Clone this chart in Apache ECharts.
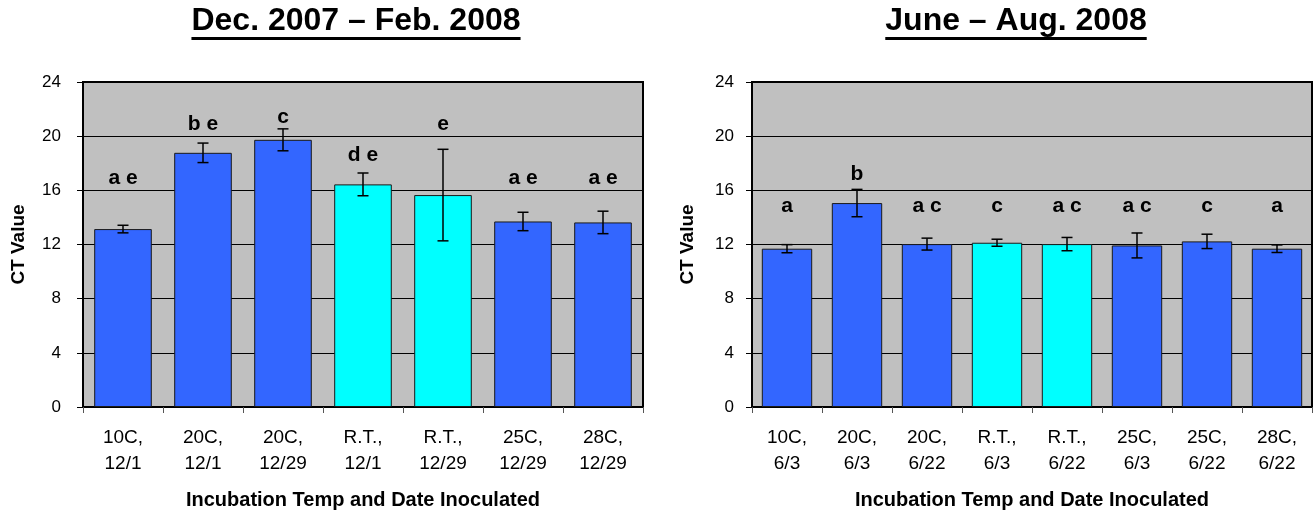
<!DOCTYPE html>
<html>
<head>
<meta charset="utf-8">
<script src="https://cdn.jsdelivr.net/npm/echarts@6/dist/echarts.min.js"></script>
<style>
html,body{margin:0;padding:0;background:#fff;}
#chart{width:1315px;height:515px;}
</style>
</head>
<body>
<div id="chart"></div>
<script>
// ---- Data ----
const leftTitle = 'Dec. 2007 \u2013 Feb. 2008';
const rightTitle = 'June \u2013 Aug. 2008';
const xAxisTitle = 'Incubation Temp and Date Inoculated';
const yAxisTitle = 'CT Value';

const leftCategories = ['10C,\n12/1', '20C,\n12/1', '20C,\n12/29', 'R.T.,\n12/1', 'R.T.,\n12/29', '25C,\n12/29', '28C,\n12/29'];
const leftValues = [13.14, 18.77, 19.73, 16.44, 15.65, 13.70, 13.63];
const leftErrors = [0.28, 0.72, 0.81, 0.84, 3.38, 0.68, 0.83];
const leftLetters = ['a e', 'b e', 'c', 'd e', 'e', 'a e', 'a e'];
const leftLetterY = [16.9, 20.9, 21.4, 18.6, 20.9, 16.9, 16.9];

const rightCategories = ['10C,\n6/3', '20C,\n6/3', '20C,\n6/22', 'R.T.,\n6/3', 'R.T.,\n6/22', '25C,\n6/3', '25C,\n6/22', '28C,\n6/22'];
const rightValues = [11.69, 15.06, 12.03, 12.13, 12.03, 11.93, 12.23, 11.69];
const rightErrors = [0.30, 1.01, 0.44, 0.26, 0.49, 0.92, 0.53, 0.28];
const rightLetters = ['a', 'b', 'a c', 'c', 'a c', 'a c', 'c', 'a'];
const rightLetterY = [14.85, 17.16, 14.85, 14.85, 14.85, 14.85, 14.85, 14.85];

const yMin = 0, yMax = 24, yInterval = 4;

// ---- Styles ----
const FONT = 'Liberation Sans, Arial, Helvetica, sans-serif';
const BLUE = '#3366FF';
const CYAN = '#00FFFF';
const PLOT_BG = '#C0C0C0';

function barColor(cat) { return cat.indexOf('R.T.') === 0 ? CYAN : BLUE; }

function measure(text, font) {
  const c = document.createElement('canvas').getContext('2d');
  c.font = font;
  return c.measureText(text).width;
}

const chart = echarts.init(document.getElementById('chart'), null, {renderer: 'canvas'});

const grids = [
  {left: 83, right: 672, top: 82, bottom: 108},
  {left: 752, right: 3, top: 82, bottom: 108}
];

function xAxisFor(idx, cats) {
  return {
    type: 'category', gridIndex: idx, data: cats,
    axisLine: {show: true, lineStyle: {color: '#000', width: 2}},
    axisTick: {show: true, length: 6, lineStyle: {color: '#555', width: 1}},
    axisLabel: {interval: 0, fontFamily: FONT, fontSize: 19, lineHeight: 26, color: '#000', margin: 18},
    name: xAxisTitle, nameLocation: 'middle', nameGap: 83,
    nameTextStyle: {fontFamily: FONT, fontSize: 20, fontWeight: 'bold', color: '#000'},
    splitLine: {show: false}
  };
}
function yAxisFor(idx, labelMargin) {
  return {
    type: 'value', gridIndex: idx, min: yMin, max: yMax, interval: yInterval,
    axisLine: {show: true, lineStyle: {color: '#000', width: 2}},
    axisTick: {show: true, length: 6, lineStyle: {color: '#000', width: 1}},
    axisLabel: {fontFamily: FONT, fontSize: 17, color: '#000', margin: labelMargin},
    splitLine: {show: true, lineStyle: {color: '#000', width: 1}},
    name: yAxisTitle, nameLocation: 'middle', nameGap: 55, nameRotate: 90,
    nameTextStyle: {fontFamily: FONT, fontSize: 19, fontWeight: 'bold', color: '#000'}
  };
}

function barSeries(idx, cats, values) {
  return {
    type: 'bar', xAxisIndex: idx, yAxisIndex: idx, barWidth: '72%',
    data: values.map((v, i) => ({value: v, itemStyle: {color: barColor(cats[i])}})),
    itemStyle: {borderColor: '#1a1a1a', borderWidth: 1},
    emphasis: {disabled: true}, silent: true, z: 2
  };
}
function errorSeries(idx, values, errors) {
  return {
    type: 'custom', xAxisIndex: idx, yAxisIndex: idx, z: 5, silent: true,
    data: values.map((v, i) => [i, v, errors[i]]),
    renderItem: function (params, api) {
      const i = api.value(0), v = api.value(1), e = api.value(2);
      const hi = api.coord([i, v + e]);
      const lo = api.coord([i, v - e]);
      const cap = 5.5;
      const st = {stroke: '#000', lineWidth: 1.5};
      return {type: 'group', children: [
        {type: 'line', shape: {x1: hi[0], y1: hi[1], x2: lo[0], y2: lo[1]}, style: st},
        {type: 'line', shape: {x1: hi[0] - cap, y1: hi[1], x2: hi[0] + cap, y2: hi[1]}, style: st},
        {type: 'line', shape: {x1: lo[0] - cap, y1: lo[1], x2: lo[0] + cap, y2: lo[1]}, style: st}
      ]};
    }
  };
}
function letterSeries(idx, letters, letterY) {
  return {
    type: 'custom', xAxisIndex: idx, yAxisIndex: idx, z: 6, silent: true,
    data: letterY.map((y, i) => [i, y]),
    renderItem: function (params, api) {
      const p = api.coord([api.value(0), api.value(1)]);
      return {type: 'text', x: p[0], y: p[1], style: {
        text: letters[params.dataIndex], fill: '#000',
        font: 'bold 21px ' + FONT, align: 'center', verticalAlign: 'middle'
      }};
    }
  };
}

const titleFont = 'bold 32px ' + FONT;
function titleGraphic(text, cx) {
  const w = measure(text, titleFont);
  return [
    {type: 'text', x: cx, y: 21, style: {text: text, font: titleFont, fill: '#000', align: 'center', verticalAlign: 'middle'}},
    {type: 'rect', shape: {x: cx - w / 2, y: 37, width: w, height: 3}, style: {fill: '#000'}}
  ];
}

const option = {
  backgroundColor: '#fff',
  animation: false,
  grid: grids.map(g => Object.assign({show: true, backgroundColor: PLOT_BG, borderColor: '#000', borderWidth: 2}, g)),
  xAxis: [xAxisFor(0, leftCategories), xAxisFor(1, rightCategories)],
  yAxis: [yAxisFor(0, 22), yAxisFor(1, 18)],
  series: [
    barSeries(0, leftCategories, leftValues),
    errorSeries(0, leftValues, leftErrors),
    letterSeries(0, leftLetters, leftLetterY),
    barSeries(1, rightCategories, rightValues),
    errorSeries(1, rightValues, rightErrors),
    letterSeries(1, rightLetters, rightLetterY)
  ],
  graphic: titleGraphic(leftTitle, 356).concat(titleGraphic(rightTitle, 1016))
};
chart.setOption(option);
</script>
</body>
</html>
